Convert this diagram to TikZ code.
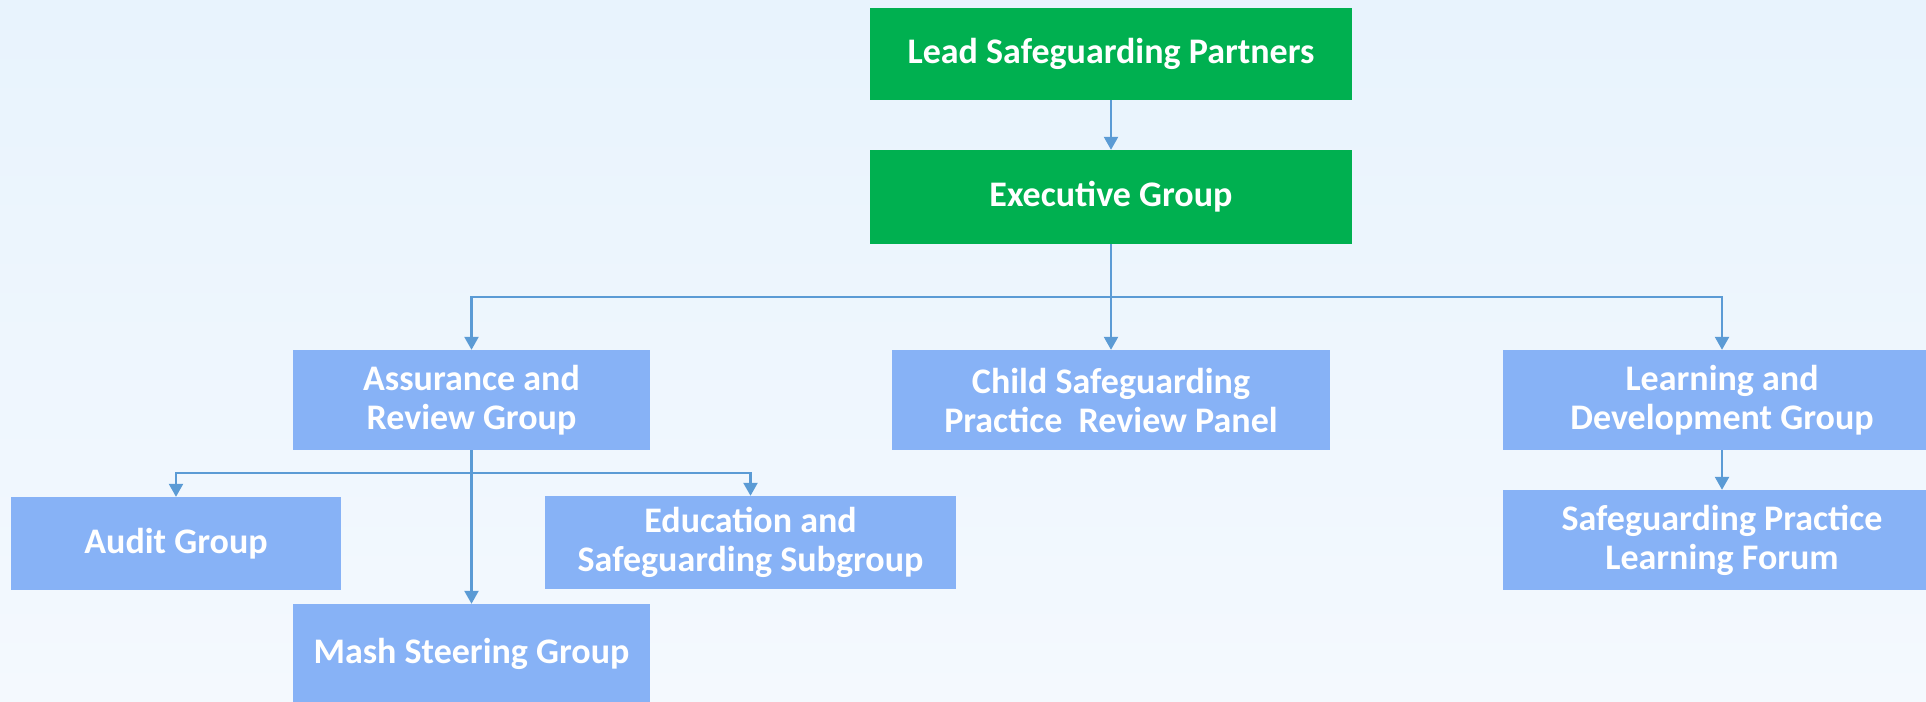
\documentclass[tikz,border=0pt]{standalone}
\usepackage{fontspec}
\setmainfont{Carlito}
\usetikzlibrary{arrows.meta}
\definecolor{bgtop}{HTML}{E8F3FD}
\definecolor{bgbot}{HTML}{F4F9FE}
\definecolor{boxgreen}{HTML}{00B050}
\definecolor{boxblue}{HTML}{87B2F6}
\definecolor{linkblue}{HTML}{5B9BD5}
\tikzset{
  gbox/.style={fill=boxgreen, text=white, font=\fontsize{36}{39}\selectfont\bfseries, align=center, inner sep=0pt},
  bbox/.style={fill=boxblue, text=white, font=\fontsize{36}{39}\selectfont\bfseries, align=center, inner sep=0pt},
  arr/.style={draw=linkblue, line width=2.4pt, -{Triangle[length=13pt,width=14pt]}},
  bus/.style={draw=linkblue, line width=2.8pt}
}
\begin{document}
\begin{tikzpicture}[x=1pt,y=-1pt]
\useasboundingbox (0,0) rectangle (1926,701);
\clip (0,0) rectangle (1926,701);
\shade[top color=bgtop, bottom color=bgbot] (0,0) rectangle (1926,701);
\node[gbox, minimum width=482pt, minimum height=92pt] (lead) at (1111,54) {Lead Safeguarding Partners};
\node[gbox, minimum width=482pt, minimum height=94pt] (exec) at (1111,197) {Executive Group};
\node[bbox, minimum width=357pt, minimum height=100pt] (assur) at (471.5,400) {Assurance and\\Review Group};
\node[bbox, minimum width=438pt, minimum height=100pt] (child) at (1111,400) {Child Safeguarding\\Practice\ \ Review Panel};
\node[bbox, minimum width=438pt, minimum height=100pt] (learn) at (1722,400) {Learning and\\Development Group};
\node[bbox, minimum width=330pt, minimum height=93pt] (audit) at (176,543.5) {Audit Group};
\node[bbox, minimum width=411pt, minimum height=93pt] (edu) at (750.5,542.5) {Education and\\Safeguarding Subgroup};
\node[bbox, minimum width=357pt, minimum height=100pt] (mash) at (471.5,654) {Mash Steering Group};
\node[bbox, minimum width=438pt, minimum height=100pt] (forum) at (1722,540) {Safeguarding Practice\\Learning Forum};
\coordinate (busE) at (1111,297);
\coordinate (busA) at (471.5,473);
\draw[arr] (lead.south) -- (exec.north);
\draw[arr] (exec.south) -- (child.north);
\draw[arr] (busE) -| (assur.north);
\draw[arr] (busE) -| (learn.north);
\draw[arr] (assur.south) -- (mash.north);
\draw[arr] (busA) -| (audit.north);
\draw[arr] (busA) -| (edu.north);
\draw[arr] (learn.south) -- (forum.north);
\end{tikzpicture}
\end{document}
